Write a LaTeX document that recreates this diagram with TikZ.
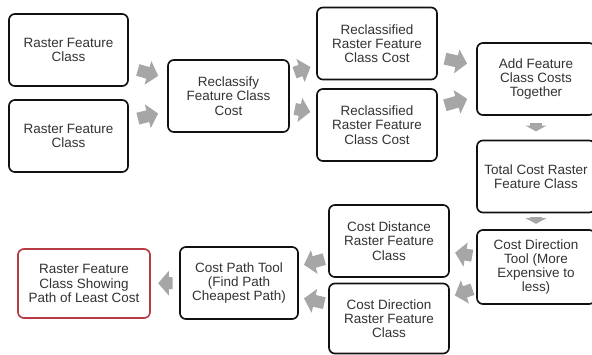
\documentclass[tikz,border=0pt]{standalone}
\usepackage{fontspec}
\setmainfont{Liberation Sans}
\usepackage{xcolor}
\definecolor{boxline}{HTML}{111111}
\definecolor{boxtext}{HTML}{333333}
\definecolor{result}{HTML}{B83A44}
\definecolor{arrowgray}{HTML}{A6A6A6}
\usepackage{tikz}
\usetikzlibrary{arrows.meta, positioning}

\begin{document}
\begin{tikzpicture}[every node/.style={font=\fontsize{11.5}{12.2}\selectfont}]
\tikzstyle{stage}=[rectangle, rounded corners=5pt, draw=boxline, line width=1.4pt, fill=white,
  minimum width=3.6cm, minimum height=2.16cm, inner sep=0pt, align=center, text=boxtext]
\tikzstyle{flow}=[-{Triangle[length=0.32cm,width=0.72cm]}, line width=0.36cm, draw=arrowgray]
\tikzstyle{stub}=[-{Triangle[length=0.17cm,width=0.62cm]}, line width=0.34cm, draw=arrowgray]
\useasboundingbox (0,0) rectangle (17.76,-10.62);
% input rasters
\node[stage, minimum width=3.57cm] (in1) at (2.055,-1.5) {Raster Feature\\Class};
\node[stage, minimum width=3.57cm] (in2) at (2.055,-4.08) {Raster Feature\\Class};
\node[stage, minimum width=3.63cm] (recl) at (6.855,-2.88) {Reclassify\\Feature Class\\Cost};
\node[stage] (cost1) at (11.31,-1.305) {Reclassified\\Raster Feature\\Class Cost};
\node[stage] (cost2) at (11.31,-3.75) {Reclassified\\Raster Feature\\Class Cost};
% right column
\node[stage, minimum width=3.54cm] (sum) at (16.08,-2.37) {Add Feature\\Class Costs\\Together};
\node[stage, minimum width=3.54cm] (total) at (16.08,-5.295) {Total Cost Raster\\Feature Class};
\node[stage, minimum width=3.54cm, minimum height=2.22cm] (dirtool) at (16.08,-8.01)
  {Cost Direction\\Tool (More\\Expensive to\\less)};
% bottom row
\node[stage] (dist) at (11.67,-7.23) {Cost Distance\\Raster Feature\\Class};
\node[stage, minimum height=2.1cm] (dir) at (11.67,-9.555) {Cost Direction\\Raster Feature\\Class};
\node[stage, minimum width=3.54cm] (path) at (7.17,-8.49) {Cost Path Tool\\(Find Path\\Cheapest Path)};
\node[stage, draw=result, minimum width=3.96cm, minimum height=2.07cm] (least) at (2.52,-8.505)
  {Raster Feature\\Class Showing\\Path of Least Cost};
% connectors
\draw[flow, shorten <=0.28cm, shorten >=0.28cm] (in1) -- (recl);
\draw[flow, shorten <=0.28cm, shorten >=0.28cm] (in2) -- (recl);
\draw[flow, shorten <=0.15cm, shorten >=0.18cm] (recl) -- (cost1);
\draw[flow, shorten <=0.15cm, shorten >=0.18cm] (recl) -- (cost2);
\draw[flow, shorten <=0.22cm, shorten >=0.28cm] (cost1) -- (sum);
\draw[flow, shorten <=0.22cm, shorten >=0.28cm] (cost2) -- (sum);
\draw[stub, shorten <=0.22cm, shorten >=0.25cm] (sum) -- (total);
\draw[stub, shorten <=0.1cm, shorten >=0.16cm] (total) -- (dirtool);
\draw[flow, shorten <=0.12cm, shorten >=0.16cm] (dirtool) -- (dist);
\draw[flow, shorten <=0.12cm, shorten >=0.16cm] (dirtool) -- (dir);
\draw[flow, shorten <=0.12cm, shorten >=0.16cm] (dist) -- (path);
\draw[flow, shorten <=0.12cm, shorten >=0.16cm] (dir) -- (path);
\draw[flow, shorten <=0.2cm, shorten >=0.22cm] (path) -- (least);
\end{tikzpicture}
\end{document}
